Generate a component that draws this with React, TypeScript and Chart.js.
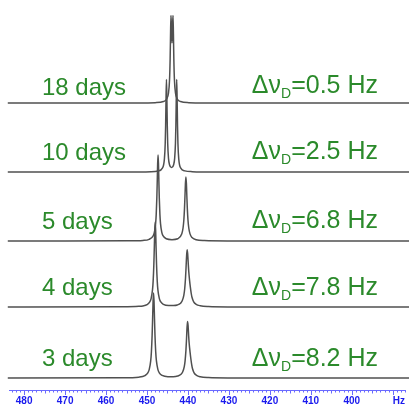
import React, { useEffect, useRef } from 'react';
import { Chart, registerables } from 'chart.js';

Chart.register(...registerables);

// ---------------- data ----------------
const dayLabels = ['18 days', '10 days', '5 days', '4 days', '3 days'];
const splittingHz = ['0.5', '2.5', '6.8', '7.8', '8.2'];
const axisMinHz = 387;
const axisMaxHz = 483.7;

// [frequency (Hz), intensity]
const spectrum18: [number, number][] = [
  [484, 0], [452, 0.1], [448, 0.37], [446, 1.44], [445.2, 4.0], [444.75, 10.2], [444.5, 23],
  [444.35, 44.3], [444.25, 69.3], [444.15, 87.6], [444.05, 77], [443.9, 60], [443.75, 77],
  [443.65, 87.6], [443.55, 69.3], [443.45, 44.3], [443.3, 23], [443.05, 10.2], [442.6, 4.0],
  [441.8, 1.44], [439.8, 0.37], [435.8, 0.1], [386, 0],
];
const spectrum10: [number, number][] = [
  [484, 0], [455, 0.05], [449, 0.35], [447.25, 1.1], [446.25, 3.84], [445.75, 13.1], [445.55, 28.8],
  [445.45, 46.5], [445.35, 74.1], [445.25, 92.6], [445.15, 74.2], [445.05, 46.7], [444.95, 29.1],
  [444.75, 13.6], [444.5, 7.3], [444.25, 5.1], [444.0, 4.6], [443.75, 5.1], [443.5, 7.3],
  [443.25, 13.6], [443.05, 29.1], [442.95, 46.7], [442.85, 74.2], [442.75, 92.6], [442.65, 74.1],
  [442.55, 46.5], [442.45, 28.8], [442.25, 13.1], [441.75, 3.84], [440.75, 1.1], [439, 0.35],
  [433, 0.05], [386, 0],
];
const spectrum5: [number, number][] = [
  [484, 0], [470, 0], [455, 0.2], [451, 0.6], [449.5, 1.7], [448.5, 5.2], [448.2, 8.7], [447.9, 17.3],
  [447.75, 26.6], [447.6, 43.1], [447.5, 59.6], [447.4, 77.5], [447.3, 86.1], [447.2, 77.5],
  [447.1, 59.6], [447.0, 43.1], [446.85, 26.6], [446.7, 17.4], [446.4, 8.8], [446.1, 5.3],
  [445.3, 2.2], [443.9, 1.3], [442.5, 2.2], [441.5, 7.2], [441.2, 13.0], [441.0, 21.2],
  [440.85, 32.1], [440.73, 44.8], [440.62, 57.4], [440.5, 64.1], [440.38, 57.4], [440.27, 44.8],
  [440.15, 32.1], [440.0, 21.2], [439.8, 13.0], [439.5, 7.1], [439.0, 3.4], [438.0, 1.3],
  [436.0, 0.45], [430, 0.1], [386, 0],
];
const spectrum4: [number, number][] = [
  [484, 0], [456, 0.2], [452, 0.65], [451, 1.1], [450, 2.35], [449.32, 5.1], [449.0, 8.45],
  [448.66, 17.1], [448.5, 25.9], [448.33, 42.6], [448.22, 58.9], [448.11, 76.6], [448.0, 85.1],
  [447.89, 76.6], [447.78, 58.9], [447.67, 42.6], [447.5, 25.9], [447.34, 17.2], [447.0, 8.6],
  [446.68, 5.3], [446.0, 2.6], [444.7, 1.4], [443.5, 1.45], [442.6, 2.0], [441.8, 3.8],
  [441.4, 6.2], [441.0, 11.9], [440.8, 18.0], [440.6, 28.7], [440.47, 39.0], [440.33, 51.2],
  [440.2, 57.3], [440.07, 53.3], [439.93, 43.5], [439.8, 35.2], [439.6, 26.4], [439.4, 19.3],
  [439.2, 13.5], [439.0, 9.5], [438.6, 5.2], [438.0, 2.7], [437.0, 1.25], [435, 0.45],
  [430, 0.1], [386, 0],
];
const spectrum3: [number, number][] = [
  [484, 0], [456, 0.2], [452, 0.85], [450.5, 2.4], [449.8, 5.1], [449.45, 8.6], [449.1, 17.1],
  [448.925, 26.3], [448.75, 42.6], [448.633, 58.9], [448.517, 76.6], [448.4, 85.1], [448.283, 76.6],
  [448.167, 58.9], [448.05, 42.6], [447.875, 26.3], [447.7, 17.2], [447.35, 8.7], [447.0, 5.2],
  [446.3, 2.6], [444.9, 1.3], [443.6, 1.25], [442.5, 1.95], [441.7, 3.7], [441.3, 6.0],
  [440.9, 11.4], [440.7, 17.2], [440.5, 27.4], [440.37, 37.3], [440.23, 50.2], [440.1, 56.5],
  [439.97, 52.5], [439.83, 42.1], [439.7, 34.5], [439.5, 26.4], [439.3, 19.5], [439.1, 13.6],
  [438.9, 9.5], [438.5, 5.1], [437.9, 2.6], [437.0, 1.25], [435, 0.45], [430, 0.1], [386, 0],
];
const spectra = [spectrum18, spectrum10, spectrum5, spectrum4, spectrum3];

// ---------------- layout / style ----------------
const rowIds = ['r18', 'r10', 'r5', 'r4', 'r3'];
const rowWeights = [103, 69, 69, 66, 83];
const rowMins = [0, 0, 0, 0, -12];
const leftLabelGap = [8, 12, 12, 12, 12];
const rightLabelGap = [10, 13, 13, 12, 12];
const FAMILY = '"Liberation Sans", Arial, Helvetica, sans-serif';
const GREEN = '#2b8a2b';
const TICK_BLUE = '#1a1aee';
const AXIS_BLUE = '#6a6aff';
const LINE = '#505050';

const annotate = {
  id: 'annotate',
  afterDraw(chart: any) {
    const ctx = chart.ctx as CanvasRenderingContext2D;
    const xs = chart.scales.x;
    const area = chart.chartArea;
    ctx.save();
    ctx.strokeStyle = AXIS_BLUE;
    ctx.lineWidth = 1;
    for (let v = Math.ceil(xs.min); v <= Math.floor(xs.max); v++) {
      const px = Math.round(xs.getPixelForValue(v)) + 0.5;
      const len = v % 10 === 0 ? 5 : v % 5 === 0 ? 3.5 : 2.5;
      ctx.beginPath();
      ctx.moveTo(px, xs.top);
      ctx.lineTo(px, xs.top + len);
      ctx.stroke();
    }
    ctx.fillStyle = TICK_BLUE;
    ctx.font = 'bold 10px ' + FAMILY;
    ctx.textAlign = 'right';
    ctx.textBaseline = 'middle';
    ctx.fillText('Hz', area.right, xs.top + 11);

    rowIds.forEach((id, i) => {
      const base = chart.scales[id].getPixelForValue(0);
      ctx.fillStyle = GREEN;
      ctx.textBaseline = 'alphabetic';
      ctx.textAlign = 'left';
      ctx.font = '24px ' + FAMILY;
      ctx.fillText(dayLabels[i], area.left + 33, base - leftLabelGap[i]);

      const ty = base - rightLabelGap[i];
      const big = '25px ' + FAMILY;
      const small = '14px ' + FAMILY;
      const p1 = 'Δν';
      const p2 = 'D';
      const p3 = '=' + splittingHz[i] + ' Hz';
      ctx.font = big;
      const w1 = ctx.measureText(p1).width;
      const w3 = ctx.measureText(p3).width;
      ctx.font = small;
      const w2 = ctx.measureText(p2).width;
      let x = 378 - (w1 + w2 + w3);
      ctx.font = big;
      ctx.fillText(p1, x, ty);
      x += w1;
      ctx.font = small;
      ctx.fillText(p2, x, ty + 5);
      x += w2;
      ctx.font = big;
      ctx.fillText(p3, x, ty);
    });
    ctx.restore();
  },
};

export default function App() {
  const ref = useRef<HTMLCanvasElement | null>(null);
  useEffect(() => {
    if (!ref.current) return;
    const scales: any = {
      x: {
        type: 'linear',
        reverse: true,
        min: axisMinHz,
        max: axisMaxHz,
        border: { display: true, color: AXIS_BLUE, width: 1 },
        grid: { display: false, drawTicks: false },
        afterFit: (scale: any) => {
          scale.height = 17;
        },
        ticks: {
          stepSize: 10,
          includeBounds: false,
          autoSkip: false,
          maxRotation: 0,
          padding: 5,
          color: TICK_BLUE,
          font: { size: 10, weight: 'bold', family: FAMILY },
          callback: (v: number) => (v % 10 === 0 && v >= 400 && v <= 480 ? String(v) : ''),
        },
      },
    };
    rowIds.forEach((id, i) => {
      scales[id] = {
        type: 'linear',
        axis: 'y',
        position: 'left',
        display: false,
        stack: 'rows',
        stackWeight: rowWeights[i],
        weight: rowIds.length - i,
        offset: false,
        min: rowMins[i],
        max: rowMins[i] + rowWeights[i],
      };
    });
    const chart = new Chart(ref.current, {
      type: 'line',
      data: {
        datasets: spectra.map((s, i) => ({
          label: dayLabels[i],
          data: s.map(([x, y]) => ({ x, y })),
          yAxisID: rowIds[i],
          xAxisID: 'x',
          borderColor: LINE,
          borderWidth: 1.5,
          pointRadius: 0,
          fill: false,
          clip: false,
          cubicInterpolationMode: 'monotone',
        })),
      },
      options: {
        animation: false,
        responsive: false,
        layout: { padding: { left: 9, right: 4, top: 0, bottom: 0 } },
        scales,
        plugins: { legend: { display: false }, tooltip: { enabled: false }, title: { display: false } },
      } as any,
      plugins: [annotate],
    });
    return () => chart.destroy();
  }, []);
  return (
    <div style={{ position: 'absolute', left: 0, top: 0, width: 409, height: 407, background: '#fff' }}>
      <canvas ref={ref} width={409} height={407} style={{ display: 'block' }} />
    </div>
  );
}
